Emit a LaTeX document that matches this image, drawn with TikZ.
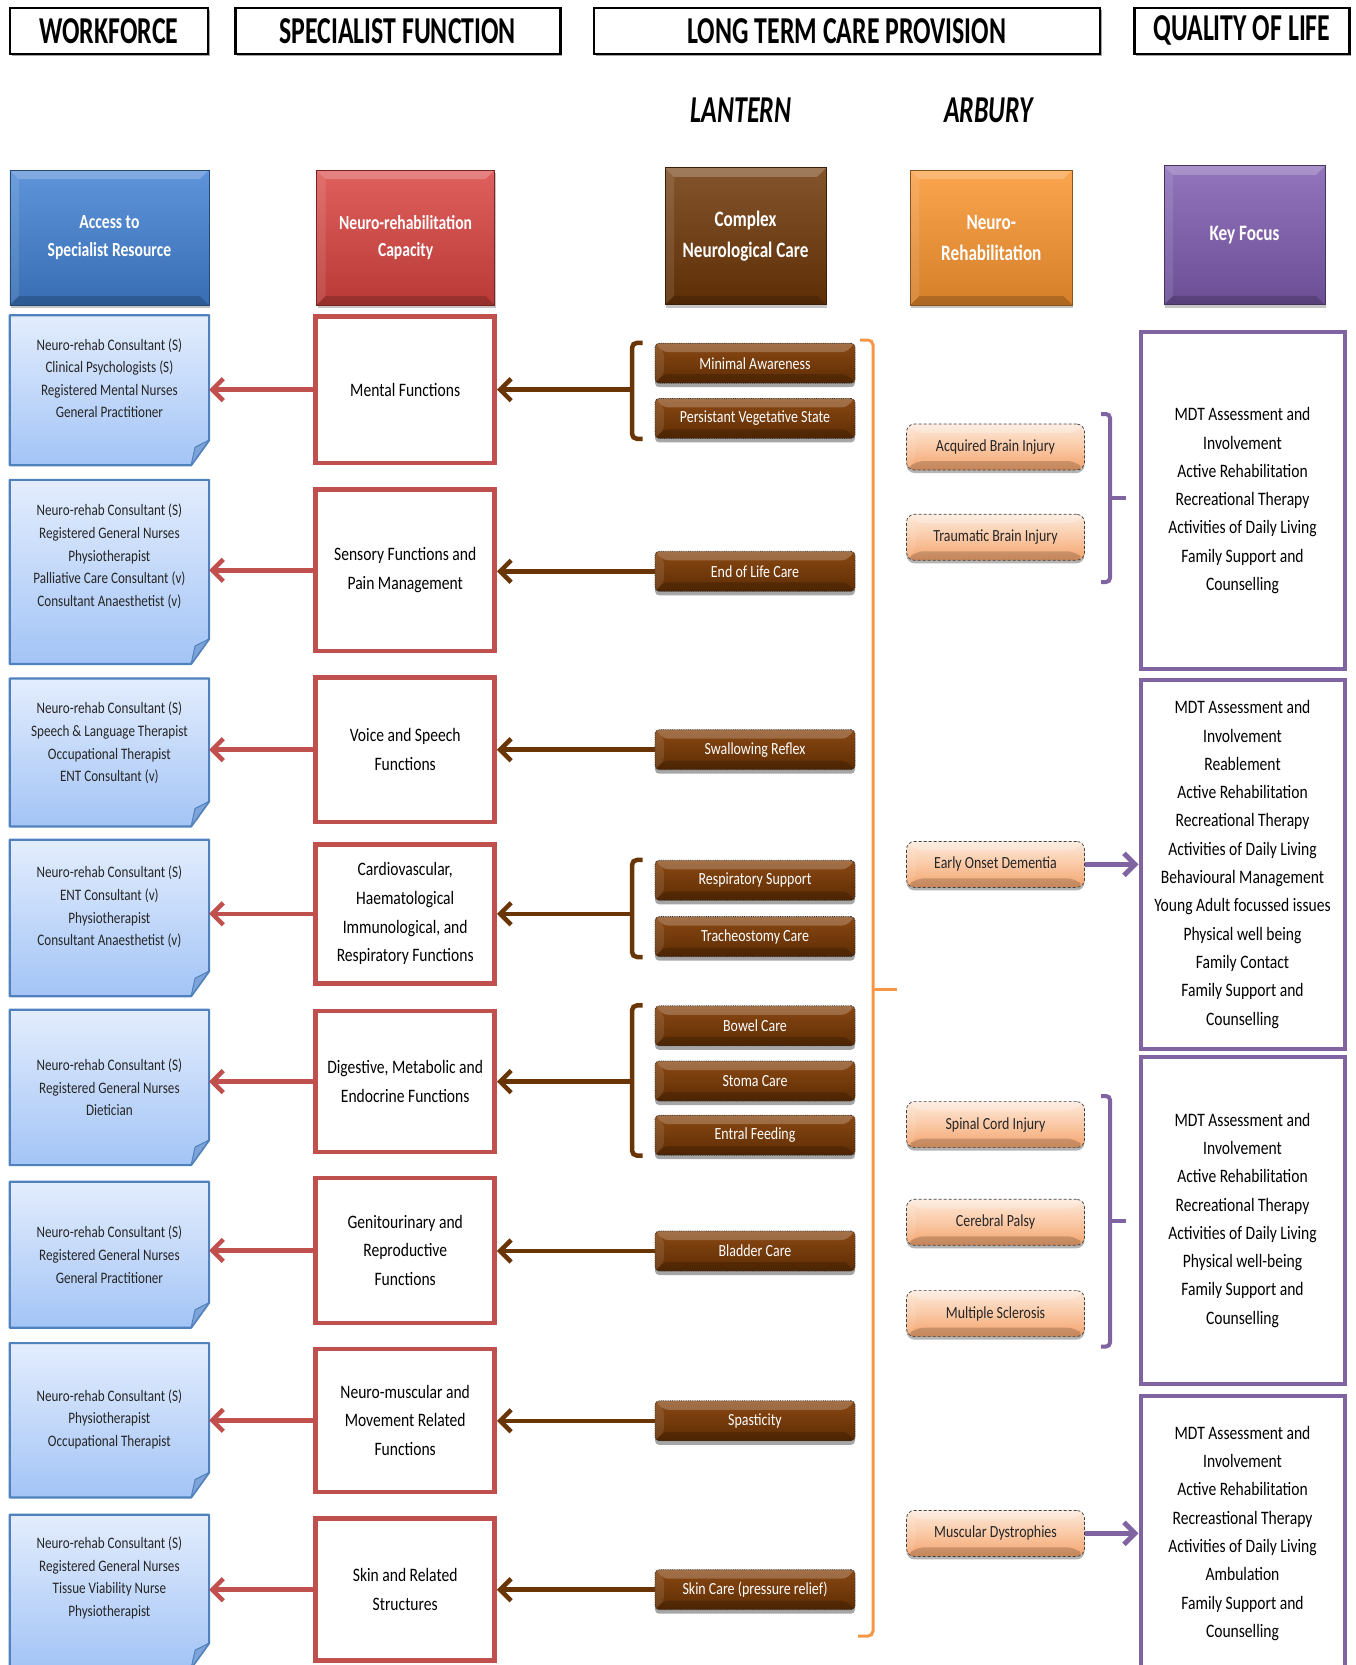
\documentclass[tikz,border=0pt]{standalone}
\usepackage{fontspec}
\usepackage{tikz}
\usetikzlibrary{arrows.meta}
\usetikzlibrary{shadows}
\usetikzlibrary{backgrounds}
\usepackage{xcolor}

\setmainfont{Carlito}
\newfontfamily\titlefont[FakeStretch=0.68]{Carlito}
\newfontfamily\headfont[FakeStretch=0.78]{Carlito}
\newfontfamily\narrowfont[FakeStretch=0.82]{Carlito}

\definecolor{noteTop}{HTML}{E3EDFD}
\definecolor{noteBottom}{HTML}{A3C4F6}
\definecolor{noteLine}{HTML}{4F81BD}
\definecolor{noteFold}{HTML}{7EA3D8}
\definecolor{funcLine}{HTML}{C0504D}
\definecolor{careLine}{HTML}{6A3505}
\definecolor{careTop}{HTML}{8A4813}
\definecolor{careBottom}{HTML}{5E2D04}
\definecolor{peachTop}{HTML}{FDE9DA}
\definecolor{peachMid}{HTML}{FAC9A6}
\definecolor{peachBottom}{HTML}{F4A36C}
\definecolor{orangeLine}{HTML}{F79646}
\definecolor{focusLine}{HTML}{8064A2}
\definecolor{headBlue}{HTML}{4281D3}
\definecolor{headRed}{HTML}{D94440}
\definecolor{headBrown}{HTML}{6E3708}
\definecolor{headOrange}{HTML}{FA9530}
\definecolor{headPurple}{HTML}{7E5CAF}

\begin{document}
\begin{tikzpicture}[x=1pt,y=-1pt,
    bevel/.style={path picture={
      \fill[white,opacity=0.22] (path picture bounding box.north west) -- (path picture bounding box.north east)
        -- ([xshift=-#1,yshift=-#1]path picture bounding box.north east) -- ([xshift=#1,yshift=-#1]path picture bounding box.north west) -- cycle;
      \fill[white,opacity=0.10] (path picture bounding box.north west) -- ([xshift=#1,yshift=-#1]path picture bounding box.north west)
        -- ([xshift=#1,yshift=#1]path picture bounding box.south west) -- (path picture bounding box.south west) -- cycle;
      \fill[black,opacity=0.18] (path picture bounding box.south west) -- (path picture bounding box.south east)
        -- ([xshift=-#1,yshift=#1]path picture bounding box.south east) -- ([xshift=#1,yshift=#1]path picture bounding box.south west) -- cycle;
      }},
    headbox/.style={shape=rectangle,draw=black,line width=2.6pt,fill=white,
      drop shadow={shadow xshift=2pt,shadow yshift=-2pt,fill=black!35,opacity=1},
      minimum height=46pt,font=\titlefont\bfseries\fontsize{38}{40}\selectfont},
    sitename/.style={font=\titlefont\bfseries\itshape\fontsize{38}{40}\selectfont},
    colhead/.style={shape=rectangle,draw=#1!55!black,line width=0.8pt,
      top color=#1!85!white,bottom color=#1!85!black,bevel=9pt,
      minimum height=135pt,align=center,text=white,
      font=\headfont\bfseries\fontsize{22}{31}\selectfont,
      drop shadow={shadow xshift=1pt,shadow yshift=-3pt,opacity=0.45}},
    notebox/.style={shape=rectangle,minimum width=199pt},
    notetext/.style={align=center,text=black!85,font=\narrowfont\fontsize{16}{22.6}\selectfont},
    funcbox/.style={shape=rectangle,draw=funcLine,line width=4.5pt,fill=white,
      minimum width=179pt,align=center,font=\narrowfont\fontsize{19}{28.7}\selectfont},
    carebox/.style={shape=rectangle,rounded corners=4pt,draw=black!80,densely dotted,line width=0.8pt,
      top color=careTop,bottom color=careBottom,minimum width=200pt,minimum height=40pt,bevel=9pt,
      text=white,font=\narrowfont\fontsize{17}{20}\selectfont,
      drop shadow={shadow xshift=0pt,shadow yshift=-4pt,opacity=0.7}},
    condbox/.style={shape=rectangle,rounded corners=8pt,draw=black!75,densely dashed,line width=0.7pt,
      top color=peachTop,bottom color=peachBottom,middle color=peachMid,
      minimum width=178pt,minimum height=46pt,bevel=9pt,
      text=black!85,font=\narrowfont\fontsize{17}{20}\selectfont,
      drop shadow={shadow xshift=0pt,shadow yshift=-3pt,opacity=0.6}},
    focusbox/.style={shape=rectangle,draw=focusLine,line width=4pt,fill=white,
      minimum width=204pt,align=center,font=\narrowfont\fontsize{19}{28.3}\selectfont},
    redarrow/.style={draw=funcLine,line width=4.5pt,-{Straight Barb[length=11pt,width=22pt]}},
    brownarrow/.style={draw=careLine,line width=4.5pt,-{Straight Barb[length=11pt,width=22pt]}},
    purplearrow/.style={draw=focusLine,line width=5pt,-{Straight Barb[length=11pt,width=22pt]}},
    brownbrace/.style={draw=careLine,line width=4.5pt,rounded corners=5pt},
    orangebrace/.style={draw=orangeLine,line width=3pt,rounded corners=5pt},
    purplebrace/.style={draw=focusLine,line width=4pt,rounded corners=4pt}]
  \useasboundingbox (0,0) rectangle (1356,1665);

  % column titles
  \node[headbox,minimum width=198pt] (workforce) at (108.9,30.8) {WORKFORCE};
  \node[headbox,minimum width=325pt] (specialist) at (397.7,30.8) {SPECIALIST FUNCTION};
  \node[headbox,minimum width=506pt] (longterm) at (846.9,30.8) {LONG TERM CARE PROVISION};
  \node[headbox,minimum width=215pt] (quality) at (1241.9,30.8) {QUALITY OF LIFE};

  \node[sitename] (lantern) at (741,110.4) {LANTERN};
  \node[sitename] (arbury) at (988.6,110.4) {ARBURY};

  \node[colhead=headBlue,minimum width=199pt,font=\headfont\bfseries\fontsize{20}{27.6}\selectfont] (access) at (109.4,237.5) {Access to\\Specialist Resource};
  \node[colhead=headRed,minimum width=178pt,font=\headfont\bfseries\fontsize{20}{27.6}\selectfont] (capacity) at (405.6,237.5) {Neuro-rehabilitation\\Capacity};
  \node[colhead=headBrown,minimum width=161pt,minimum height=137pt] (complex) at (745.5,236.3) {Complex\\Neurological Care};
  \node[colhead=headOrange,minimum width=162pt] (neurorehab) at (991.3,237.5) {Neuro-\\Rehabilitation};
  \node[colhead=headPurple,minimum width=161pt,minimum height=139pt] (keyfocus) at (1244.5,235.3) {Key Focus};

  % workforce
  \node[notebox,minimum height=149.7pt,label={[notetext,yshift=12pt]center:{Neuro-rehab Consultant (S)\\Clinical Psychologists (S)\\Registered Mental Nurses\\General Practitioner}}] (w1) at (109.4,390.2) {};
  \node[notebox,minimum height=183.7pt,label={[notetext,yshift=15.5pt]center:{Neuro-rehab Consultant (S)\\Registered General Nurses\\Physiotherapist\\Palliative Care Consultant (v)\\Consultant Anaesthetist (v)}}] (w2) at (109.4,571.9) {};
  \node[notebox,minimum height=147.6pt,label={[notetext,yshift=9.4pt]center:{Neuro-rehab Consultant (S)\\Speech \& Language Therapist\\Occupational Therapist\\ENT Consultant (v)}}] (w3) at (109.4,752.4) {};
  \node[notebox,minimum height=156pt,label={[notetext,yshift=11pt]center:{Neuro-rehab Consultant (S)\\ENT Consultant (v)\\Physiotherapist\\Consultant Anaesthetist (v)}}] (w4) at (109.4,918) {};
  \node[notebox,minimum height=155pt,label={[notetext]center:{Neuro-rehab Consultant (S)\\Registered General Nurses\\Dietician}}] (w5) at (109.4,1087.4) {};
  \node[notebox,minimum height=145.5pt,label={[notetext]center:{Neuro-rehab Consultant (S)\\Registered General Nurses\\General Practitioner}}] (w6) at (109.4,1254.7) {};
  \node[notebox,minimum height=154pt,label={[notetext,yshift=1pt]center:{Neuro-rehab Consultant (S)\\Physiotherapist\\Occupational Therapist}}] (w7) at (109.4,1420.3) {};
  \node[notebox,minimum height=153pt,label={[notetext,yshift=13.5pt]center:{Neuro-rehab Consultant (S)\\Registered General Nurses\\Tissue Viability Nurse\\Physiotherapist}}] (w8) at (109.4,1591.5) {};

  \begin{pgfonlayer}{background}
    \foreach \n in {w1,w2,w3,w4,w5,w6,w7,w8}{
      \shade[top color=noteTop,bottom color=noteBottom,draw=noteLine,line width=2.2pt,line join=round]
        (\n.north west) -- (\n.north east) -- ([yshift=25pt]\n.south east) -- ([xshift=-18pt]\n.south east) -- (\n.south west) -- cycle;
      \filldraw[fill=noteFold,draw=noteLine,line width=1pt,line join=round]
        ([yshift=25pt]\n.south east) -- ([xshift=-18pt]\n.south east) -- ([xshift=-14pt,yshift=18pt]\n.south east) -- cycle;
    }
  \end{pgfonlayer}

  % specialist functions
  \node[funcbox,minimum height=146.3pt] (f1) at (405.2,389.7) {Mental Functions};
  \node[funcbox,minimum height=161.2pt] (f2) at (405.2,570.3) {Sensory Functions and\\Pain Management};
  \node[funcbox,minimum height=144.2pt] (f3) at (405.2,749.7) {Voice and Speech\\Functions};
  \node[funcbox,minimum height=138.9pt] (f4) at (405.2,913.8) {Cardiovascular,\\Haematological\\Immunological, and\\Respiratory Functions};
  \node[funcbox,minimum height=141pt] (f5) at (405.2,1081.6) {Digestive, Metabolic and\\Endocrine Functions};
  \node[funcbox,minimum height=145.2pt] (f6) at (405.2,1250.4) {Genitourinary and\\Reproductive\\Functions};
  \node[funcbox,minimum height=143.1pt] (f7) at (405.2,1420.3) {Neuro-muscular and\\Movement Related\\Functions};
  \node[funcbox,minimum height=142pt] (f8) at (405.2,1589.7) {Skin and Related\\Structures};

  % lantern
  \node[carebox] (minimal) at (755,363.2) {Minimal Awareness};
  \node[carebox] (pvs) at (755,418.4) {Persistant Vegetative State};
  \node[carebox] (endlife) at (755,571.3) {End of Life Care};
  \node[carebox] (swallow) at (755,749.7) {Swallowing Reflex};
  \node[carebox] (resp) at (755,880.3) {Respiratory Support};
  \node[carebox] (trach) at (755,936.6) {Tracheostomy Care};
  \node[carebox] (bowel) at (755,1025.8) {Bowel Care};
  \node[carebox] (stoma) at (755,1081) {Stoma Care};
  \node[carebox] (entral) at (755,1135.2) {Entral Feeding};
  \node[carebox] (bladder) at (755,1251) {Bladder Care};
  \node[carebox] (spastic) at (755,1420.8) {Spasticity};
  \node[carebox] (skin) at (755,1589.7) {Skin Care (pressure relief)};

  % arbury
  \node[condbox] (abi) at (995.5,447) {Acquired Brain Injury};
  \node[condbox] (tbi) at (995.5,537.3) {Traumatic Brain Injury};
  \node[condbox] (eod) at (995.5,864.4) {Early Onset Dementia};
  \node[condbox] (sci) at (995.5,1124.6) {Spinal Cord Injury};
  \node[condbox] (cp) at (995.5,1222.3) {Cerebral Palsy};
  \node[condbox] (ms) at (995.5,1313.6) {Multiple Sclerosis};
  \node[condbox] (md) at (995.5,1533.4) {Muscular Dystrophies};

  % quality of life
  \node[focusbox,minimum height=336.8pt] (q1) at (1242.5,500.7) {MDT Assessment and\\Involvement\\Active Rehabilitation\\Recreational Therapy\\Activities of Daily Living\\Family Support and\\Counselling};
  \node[focusbox,minimum height=369.8pt] (q2) at (1242.5,864.4) {MDT Assessment and\\Involvement\\Reablement\\Active Rehabilitation\\Recreational Therapy\\Activities of Daily Living\\Behavioural Management\\Young Adult focussed issues\\Physical well being\\Family Contact\\Family Support and\\Counselling};
  \node[focusbox,minimum height=327.3pt] (q3) at (1242.5,1220.2) {MDT Assessment and\\Involvement\\Active Rehabilitation\\Recreational Therapy\\Activities of Daily Living\\Physical well-being\\Family Support and\\Counselling};
  \node[focusbox,minimum height=274pt] (q4) at (1242.5,1533.4) {MDT Assessment and\\Involvement\\Active Rehabilitation\\Recreastional Therapy\\Activities of Daily Living\\Ambulation\\Family Support and\\Counselling};

  % brackets
  \coordinate (g1) at (632,389.7);
  \coordinate (g4) at (632,913.8);
  \coordinate (g5) at (632,1081.6);
  \draw[brownbrace] ([xshift=-12pt]minimal.north west) -| (g1) |- ([xshift=-12pt]pvs.south west);
  \draw[brownbrace] ([xshift=-12pt]resp.north west) -| (g4) |- ([xshift=-12pt]trach.south west);
  \draw[brownbrace] ([xshift=-12pt]bowel.north west) -| (g5) |- ([xshift=-12pt]entral.south west);

  \draw[orangebrace] (860,340) -| (873,989) |- (858,1636);
  \draw[orangebrace] (873,989) -- (897,989);

  \draw[purplebrace] (1101,414) -| (1110,498) |- (1101,582);
  \draw[purplebrace] (1110,498) -- (1126,498);
  \draw[purplebrace] (1101,1096) -| (1110,1221) |- (1101,1346.5);
  \draw[purplebrace] (1110,1221) -- (1126,1221);

  % connectors
  \draw[redarrow] (f1.west) -- (f1.west -| w1.east);
  \draw[redarrow] (f2.west) -- (f2.west -| w2.east);
  \draw[redarrow] (f3.west) -- (f3.west -| w3.east);
  \draw[redarrow] (f4.west) -- (f4.west -| w4.east);
  \draw[redarrow] (f5.west) -- (f5.west -| w5.east);
  \draw[redarrow] (f6.west) -- (f6.west -| w6.east);
  \draw[redarrow] (f7.west) -- (f7.west -| w7.east);
  \draw[redarrow] (f8.west) -- (f8.west -| w8.east);

  \draw[brownarrow] (g1) -- (g1 -| f1.east);
  \draw[brownarrow] (endlife.west) -- (endlife.west -| f2.east);
  \draw[brownarrow] (swallow.west) -- (swallow.west -| f3.east);
  \draw[brownarrow] (g4) -- (g4 -| f4.east);
  \draw[brownarrow] (g5) -- (g5 -| f5.east);
  \draw[brownarrow] (bladder.west) -- (bladder.west -| f6.east);
  \draw[brownarrow] (spastic.west) -- (spastic.west -| f7.east);
  \draw[brownarrow] (skin.west) -- (skin.west -| f8.east);

  \draw[purplearrow] (eod.east) -- (eod.east -| q2.west);
  \draw[purplearrow] (md.east) -- (md.east -| q4.west);
\end{tikzpicture}
\end{document}
